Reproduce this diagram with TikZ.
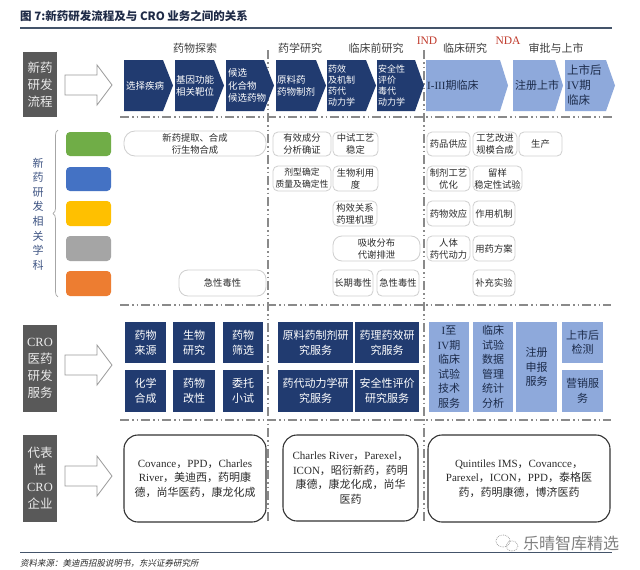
\documentclass[tikz,border=0pt]{standalone}
\usepackage{fontspec}
\setmainfont{Noto Sans CJK SC}
\newfontfamily\lat{Liberation Serif}
\newfontfamily\slantcjk[FakeSlant=0.2]{Noto Sans CJK SC}
\usetikzlibrary{decorations.pathreplacing}
\definecolor{navy}{HTML}{213B70}
\definecolor{lblue}{HTML}{8EA9DB}
\definecolor{labgray}{HTML}{595959}
\definecolor{dashgray}{HTML}{8A8A8A}
\definecolor{boxgray}{HTML}{CFCFCF}
\definecolor{txt}{HTML}{2B2B2B}
\definecolor{ltxt}{HTML}{1C2B4A}
\definecolor{phasec}{HTML}{404040}
\definecolor{redc}{HTML}{C0392B}
\definecolor{rulec}{HTML}{44546A}
\definecolor{vtxt}{HTML}{3E5483}
\definecolor{titlec}{HTML}{1F2B47}
\definecolor{cgreen}{HTML}{70AD47}
\definecolor{cblue}{HTML}{4472C4}
\definecolor{cyellow}{HTML}{FFC000}
\definecolor{cgray}{HTML}{A5A5A5}
\definecolor{corange}{HTML}{ED7D31}
\newcommand\bx[7][]{\node[#1, minimum width={#5-#3}, minimum height={#6-#4}] (#2) at ({(#3+#5)/2},{(#4+#6)/2}) {#7};}
\newcommand\chev[8]{%
  \fill[#5] (#2,60) -- (#3,60) -- (#4,85.5) -- (#3,111) -- (#2,111) -- cycle;
  \node[#6] (#1) at (#7,85.5) {#8};}
\newcommand\harrow[1]{%
  \draw[hollow] (65,#1-10) -- (97,#1-10) -- (97,#1-20) -- (112,#1) -- (97,#1+20) -- (97,#1+10) -- (65,#1+10) -- cycle;}
\begin{document}
\begin{tikzpicture}[x=1pt,y=-1pt,
  dl/.style={draw=dashgray, line width=1.2pt, dash pattern=on 9pt off 3pt on 1.5pt off 3pt on 1.5pt off 3pt},
  ctd/.style={text=white, inner sep=0, align=left},
  ctl/.style={text=ltxt, inner sep=0, align=left},
  mbox/.style={draw=boxgray, fill=white, rounded corners=5pt, line width=0.8pt, font=\fontsize{9.3}{12}\selectfont, text=txt, align=center, inner sep=0},
  lab/.style={fill=labgray, text=white!92!black, font=\fontsize{12.5}{17}\selectfont, align=center, inner sep=0},
  hollow/.style={draw=black!40, fill=white, line width=0.8pt},
  crod/.style={fill=navy, text=white, font=\fontsize{11}{15}\selectfont, align=center, inner sep=0},
  crol/.style={fill=lblue, text=ltxt, font=\fontsize{11}{14.5}\selectfont, align=center, inner sep=0},
  ent/.style={draw=black!80, line width=1.1pt, rounded corners=14pt, fill=white, align=center, font=\fontsize{11}{14.5}\selectfont, text=txt, inner sep=0},
  phase/.style={font=\fontsize{11}{13}\selectfont, text=phasec, inner sep=0},
  redl/.style={font=\lat\fontsize{11.5}{13}\selectfont, text=redc, inner sep=0},
  colbar/.style={rounded corners=4pt, inner sep=0}
]
\useasboundingbox (0,0) rectangle (640,570);
\fill[white] (0,0) rectangle (640,570);

% title
\node[anchor=west, font=\bfseries\fontsize{11.5}{13}\selectfont, text=titlec, inner sep=0] (title) at (20,16) {图 7:新药研发流程及与 CRO 业务之间的关系};
\draw[rulec, line width=1.2pt] (20,28) -- (612,28);

% dashed separators
\draw[dl] (268,50) -- (268,524);
\draw[dl] (424,50) -- (424,524);
\draw[dl] (120,117) -- (613,117);
\draw[dl] (120,305) -- (611,305);
\draw[dl] (120,420) -- (611,420);

% phase labels
\node[phase] (p1) at (195,48) {药物探索};
\node[phase] (p2) at (300,48) {药学研究};
\node[phase] (p3) at (376,48) {临床前研究};
\node[phase] (p4) at (465,48) {临床研究};
\node[phase] (p5) at (556,48) {审批与上市};
\node[redl] (ind) at (427,41) {IND};
\node[redl] (nda) at (508,41) {NDA};

% chevrons
\chev{c1}{124}{163}{173}{navy}{ctd, font=\fontsize{9.5}{12}\selectfont}{145}{选择疾病}
\chev{c2}{175}{214}{224}{navy}{ctd, font=\fontsize{9.5}{12}\selectfont}{195}{基因功能\\相关靶位}
\chev{c3}{226}{264}{274}{navy}{ctd, font=\fontsize{9.5}{12.5}\selectfont, anchor=west}{228}{候选\\化合物\\候选药物}
\chev{c4}{276}{316}{326}{navy}{ctd, font=\fontsize{9.5}{12}\selectfont, anchor=west}{277}{原料药\\药物制剂}
\chev{c5}{327}{366}{376}{navy}{ctd, font=\fontsize{9}{11}\selectfont, anchor=west}{328}{药效\\及机制\\药代\\动力学}
\chev{c6}{377}{415}{424}{navy}{ctd, font=\fontsize{9}{11}\selectfont, anchor=west}{378}{安全性\\评价\\毒代\\动力学}
\chev{c7}{426}{500}{508}{lblue}{ctl, font=\fontsize{11}{14}\selectfont, anchor=west}{427}{{\lat I-III}期临床}
\chev{c8}{513}{555}{563}{lblue}{ctl, font=\fontsize{11}{14}\selectfont}{537}{注册上市}
\chev{c9}{565}{606}{615}{lblue}{ctl, font=\fontsize{11.5}{15}\selectfont, anchor=west}{567}{上市后\\{\lat IV}期\\临床}

% left labels and hollow arrows
\bx[lab]{l1}{23}{52}{57}{117}{新药\\研发\\流程}
\bx[lab]{l2}{23}{325}{57}{412}{{\lat CRO}\\医药\\研发\\服务}
\bx[lab]{l3}{23}{435}{57}{522}{代表\\性\\{\lat CRO}\\企业}
\harrow{85}
\harrow{365}
\harrow{476}

% colour bars
\bx[colbar, fill=cgreen]{g1}{66}{132}{111}{156}{}
\bx[colbar, fill=cblue]{g2}{66}{167}{111}{191}{}
\bx[colbar, fill=cyellow]{g3}{66}{201}{111}{226}{}
\bx[colbar, fill=cgray]{g4}{66}{236}{111}{261}{}
\bx[colbar, fill=corange]{g5}{66}{271}{111}{296}{}
\draw[black!35, line width=0.7pt, decorate, decoration={brace, amplitude=5pt}] (58,297) -- (58,130);
\node[text=vtxt, font=\fontsize{11}{14.6}\selectfont, align=center, inner sep=0] (vt) at (38,214) {新\\药\\研\\发\\相\\关\\学\\科};

% middle boxes
\bx[mbox, rounded corners=11pt]{m1}{124}{131}{266}{156}{新药提取、合成\\衍生物合成}
\bx[mbox]{m2}{273}{132}{331}{156}{有效成分\\分析确证}
\bx[mbox]{m3}{333}{132}{378}{156}{中试工艺\\稳定}
\bx[mbox]{m4}{427}{132}{470}{156}{药品供应}
\bx[mbox]{m5}{473}{132}{517}{156}{工艺改进\\规模合成}
\bx[mbox]{m6}{519}{132}{562}{156}{生产}
\bx[mbox, font=\fontsize{8.8}{12}\selectfont]{m7}{273}{166}{331}{191}{剂型确定\\质量及确定性}
\bx[mbox]{m8}{333}{166}{378}{191}{生物利用\\度}
\bx[mbox]{m9}{427}{166}{470}{191}{制剂工艺\\优化}
\bx[mbox]{m10}{473}{166}{522}{191}{留样\\稳定性试验}
\bx[mbox]{m11}{333}{201}{377}{226}{构效关系\\药理机理}
\bx[mbox]{m12}{427}{201}{470}{226}{药物效应}
\bx[mbox]{m13}{473}{201}{515}{226}{作用机制}
\bx[mbox, rounded corners=9pt]{m14}{333}{236}{420}{261}{吸收分布\\代谢排泄}
\bx[mbox]{m15}{427}{236}{470}{261}{人体\\药代动力}
\bx[mbox]{m16}{473}{236}{515}{261}{用药方案}
\bx[mbox, rounded corners=9pt]{m17}{179}{270}{266}{296}{急性毒性}
\bx[mbox]{m18}{333}{270}{373}{296}{长期毒性}
\bx[mbox]{m19}{377}{270}{419}{296}{急性毒性}
\bx[mbox]{m20}{473}{270}{515}{296}{补充实验}

% CRO services
\bx[crod]{s1}{125}{322}{166}{363}{药物\\来源}
\bx[crod]{s2}{173}{322}{215}{363}{生物\\研究}
\bx[crod]{s3}{223}{322}{263}{363}{药物\\筛选}
\bx[crod]{s4}{125}{370}{166}{412}{化学\\合成}
\bx[crod]{s5}{173}{370}{215}{412}{药物\\改性}
\bx[crod]{s6}{223}{370}{263}{412}{委托\\小试}
\bx[crod]{s7}{278}{322}{353}{363}{原料药制剂研\\究服务}
\bx[crod]{s8}{355}{322}{419}{363}{药理药效研\\究服务}
\bx[crod]{s9}{278}{370}{353}{412}{药代动力学研\\究服务}
\bx[crod]{s10}{355}{370}{419}{412}{安全性评价\\研究服务}
\bx[crol]{s11}{429}{322}{469}{412}{{\lat I}至\\{\lat IV}期\\临床\\试验\\技术\\服务}
\bx[crol]{s12}{473}{322}{513}{412}{临床\\试验\\数据\\管理\\统计\\分析}
\bx[crol]{s13}{516}{322}{557}{412}{注册\\申报\\服务}
\bx[crol]{s14}{562}{322}{603}{363}{上市后\\检测}
\bx[crol]{s15}{562}{370}{603}{412}{营销服\\务}

% representative companies
\bx[ent]{e1}{124}{435}{266}{522}{{\lat Covance}，{\lat PPD}，{\lat Charles}\\{\lat River}，美迪西，药明康\\德，尚华医药，康龙化成}
\bx[ent]{e2}{283}{435}{418}{521}{{\lat Charles River}，{\lat Parexel}，\\{\lat ICON}，昭衍新药，药明\\康德，康龙化成，尚华\\医药}
\bx[ent]{e3}{428}{435}{610}{522}{{\lat Quintiles IMS}，{\lat Covancce}，\\{\lat Parexel}，{\lat ICON}，{\lat PPD}，泰格医\\药，药明康德，博济医药}

% footer
\draw[rulec, line width=1pt] (20,552) -- (612,552);
\node[anchor=west, font=\slantcjk\fontsize{8.5}{10}\selectfont, text=txt, inner sep=0] (src) at (20,563) {资料来源：美迪西招股说明书，东兴证券研究所};
\draw[black!35, densely dotted, line width=0.8pt] (503,541) ellipse [x radius=7, y radius=6];
\draw[black!35, densely dotted, line width=0.8pt] (512,546) ellipse [x radius=6, y radius=5];
\node[anchor=west, font=\fontsize{16}{18}\selectfont, text=black!50, inner sep=0] (wm) at (523,543) {乐晴智库精选};
\end{tikzpicture}
\end{document}
